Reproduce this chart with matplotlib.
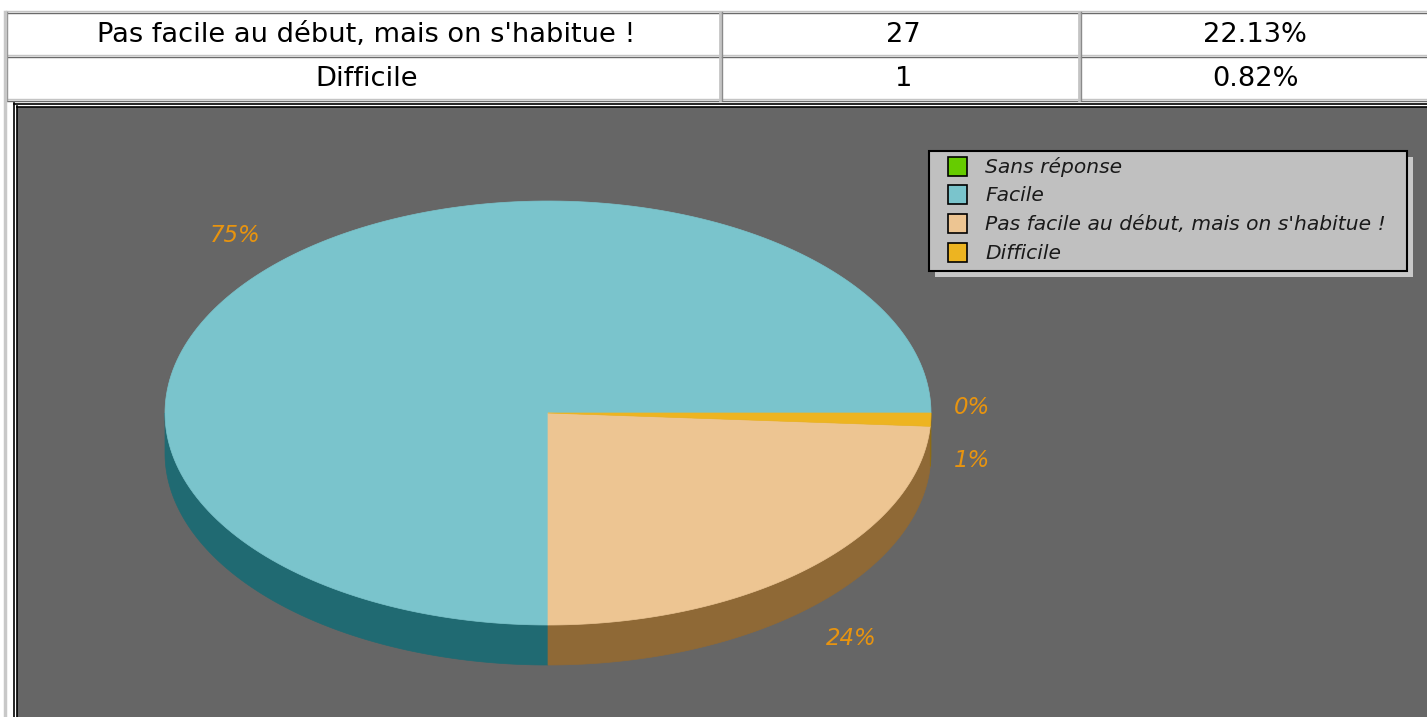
import numpy as np
import matplotlib.pyplot as plt
from matplotlib.patches import Rectangle, Polygon

# last two rows of the results table (visible above the chart)
row_labels = ["Pas facile au début, mais on s'habitue !", "Difficile"]
row_counts = ["27", "1"]
row_pcts = ["22.13%", "0.82%"]

# pie as drawn (percent of the circle)
categories = ["Sans réponse", "Facile", "Pas facile au début, mais on s'habitue !", "Difficile"]
shares = [0, 75, 24, 1]
pie_labels = ["0%", "75%", "24%", "1%"]
top_colors = ["#66CC00", "#7AC4CC", "#EDC592", "#EDB421"]
side_colors = ["#336600", "#206A72", "#8F6936", "#8E6C14"]

W, H = 1427, 717
fig = plt.figure(figsize=(W / 100, H / 100), dpi=100)
ax = fig.add_axes([0, 0, 1, 1])
ax.set_xlim(0, W)
ax.set_ylim(H, 0)
ax.axis('off')

# ---- table ----
col_x = [6, 721, 1080, 1424]
row_y = [12, 56, 100]
for y in row_y:
    ax.plot([6, W], [y - 1, y - 1], color='#c4c4c4', lw=1.0)
    ax.plot([6, W], [y + 0.5, y + 0.5], color='#6a6a6a', lw=1.0)
for x in col_x[:3]:
    ax.plot([x - 1, x - 1], [row_y[0], row_y[-1]], color='#c4c4c4', lw=2.0)
    ax.plot([x + 1, x + 1], [row_y[0], row_y[-1]], color='#8a8a8a', lw=1.0)
ax.plot([5, 5], [row_y[0], H], color='#c8c8c8', lw=2.5)

for i in range(len(row_labels)):
    yc = (row_y[i] + row_y[i + 1]) / 2 + 1
    for j, txt in enumerate([row_labels[i], row_counts[i], row_pcts[i]]):
        xc = (col_x[j] + col_x[j + 1]) / 2 + 3
        ax.text(xc, yc, txt, ha='center', va='center', fontsize=19.6,
                color='black', family='DejaVu Sans')

# ---- chart image frame ----
ax.add_patch(Rectangle((17, 107), W - 17, H - 107, fc='#666666', ec='none'))
ax.plot([13.5, 13.5], [103, H], color='black', lw=1.2)
ax.plot([16.5, 16.5], [106, H], color='black', lw=1.2)
ax.plot([13.5, W], [103.5, 103.5], color='black', lw=1.2)
ax.plot([16.5, W], [106.5, 106.5], color='black', lw=1.2)

# ---- 3D pie ----
cx, cy, rx, ry, depth = 548, 413, 383, 212, 40


def arc(a, b, n=200):
    t = np.radians(np.linspace(a, b, n))
    return cx + rx * np.cos(t), cy - ry * np.sin(t)


bounds = np.concatenate([[0], np.cumsum(shares)]) * 3.6

# side walls (front half only)
for k in range(len(shares)):
    a, b = max(bounds[k], 180), min(bounds[k + 1], 360)
    if shares[k] == 0 or b <= a:
        continue
    xs, ys = arc(a, b)
    px = np.concatenate([xs, xs[::-1]])
    py = np.concatenate([ys, ys[::-1] + depth])
    ax.add_patch(Polygon(np.column_stack([px, py]), closed=True,
                         fc=side_colors[k], ec=side_colors[k], lw=0.5))

# top face
for k in range(len(shares)):
    if shares[k] == 0:
        continue
    xs, ys = arc(bounds[k], bounds[k + 1])
    px = np.concatenate([[cx], xs])
    py = np.concatenate([[cy], ys])
    ax.add_patch(Polygon(np.column_stack([px, py]), closed=True,
                         fc=top_colors[k], ec=top_colors[k], lw=0.5))

# percent labels
for k in range(len(shares)):
    mid = np.radians((bounds[k] + bounds[k + 1]) / 2)
    c, s = np.cos(mid), np.sin(mid)
    lx = cx + 1.06 * rx * c
    if s < -1e-9:
        ly = cy - 1.2 * ry * s + depth
    else:
        ly = cy - 1.15 * ry * s - 5
    ax.text(lx, ly, pie_labels[k], ha='right' if c < 0 else 'left', va='center',
            fontsize=16.5, style='italic', color='#E8940F')

# ---- legend ----
lx0, ly0, lw_, lh_ = 929, 151, 478, 120
ax.add_patch(Rectangle((lx0 + 6, ly0 + 6), lw_, lh_, fc='#C8C8C8', ec='none'))
ax.add_patch(Rectangle((lx0, ly0), lw_, lh_, fc='#C0C0C0', ec='black', lw=1.5))
for k, name in enumerate(categories):
    yc = 166 + k * 28.7
    ax.add_patch(Rectangle((948, yc - 9.5), 19, 19, fc=top_colors[k], ec='black', lw=1.2))
    ax.text(985, yc + 1, name, ha='left', va='center', fontsize=14.6,
            style='italic', color='#1a1a1a')

fig.savefig('out.png', dpi=100)
